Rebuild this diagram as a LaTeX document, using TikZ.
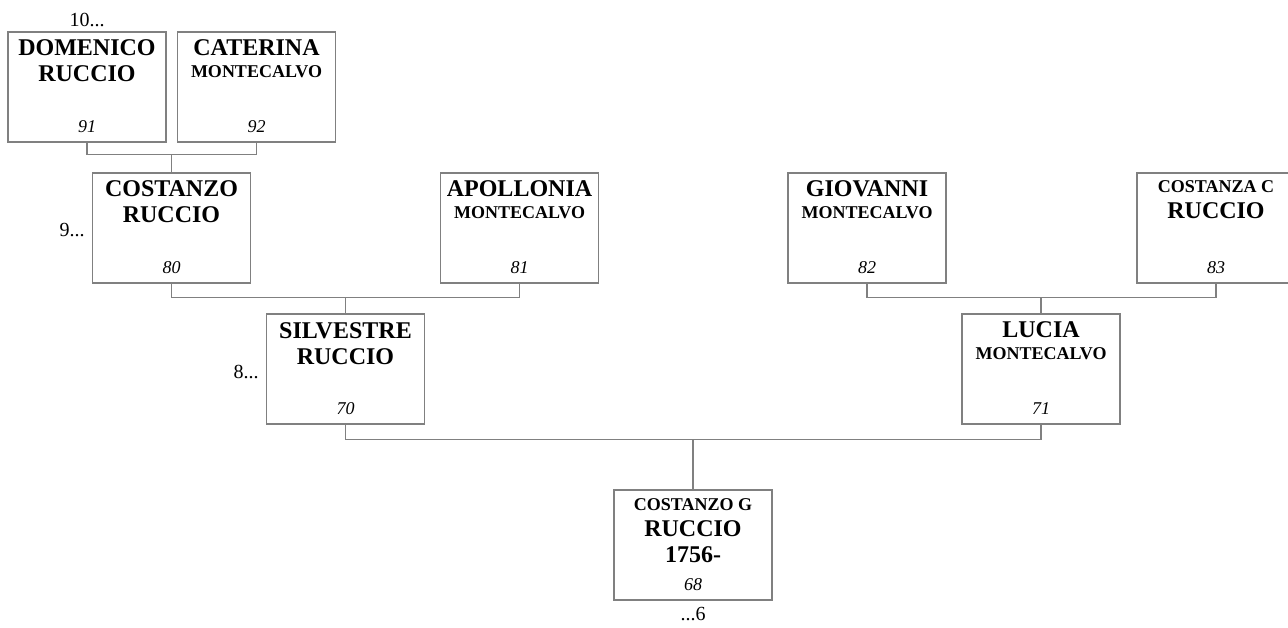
\documentclass[tikz,border=0pt]{standalone}
\usepackage{fontspec}
\setmainfont{Liberation Serif}
\usetikzlibrary{calc}

\definecolor{linegray}{RGB}{128,128,128}
\tikzset{
	pbox/.style={draw=linegray, line width=1.3pt, minimum width=158pt, minimum height=110pt, inner sep=0pt},
	namebig/.style={anchor=base, inner sep=0pt, font=\fontsize{24}{26}\selectfont\bfseries},
	namesmall/.style={anchor=base, inner sep=0pt, font=\fontsize{18}{20}\selectfont\bfseries},
	numtxt/.style={anchor=base, inner sep=0pt, font=\fontsize{18}{20}\selectfont\itshape},
	gen/.style={anchor=base, inner sep=0pt, font=\fontsize{20}{22}\selectfont},
	link/.style={draw=linegray, line width=1.3pt}
}

\begin{document}
\begin{tikzpicture}[x=1pt,y=-1pt]
			\useasboundingbox (0,0) rectangle (1288,628);
			% boxes
			\foreach \id/\x/\y in {91/87/87, 92/256.5/87, 80/171.5/228, 81/519.5/228, 82/867/228, 83/1216/228, 70/345.5/369, 71/1041/369, 68/693/545}
				\node[pbox] (p\id) at (\x,\y) {};
			% names
			\foreach \id/\dy/\st/\txt in {91/24/namebig/DOMENICO, 91/50/namebig/RUCCIO,
				92/24/namebig/CATERINA, 92/46/namesmall/MONTECALVO,
				80/24/namebig/COSTANZO, 80/50/namebig/RUCCIO,
				81/24/namebig/APOLLONIA, 81/46/namesmall/MONTECALVO,
				82/24/namebig/GIOVANNI, 82/46/namesmall/MONTECALVO,
				83/20/namesmall/COSTANZA C, 83/46/namebig/RUCCIO,
				70/25/namebig/SILVESTRE, 70/51/namebig/RUCCIO,
				71/24/namebig/LUCIA, 71/46/namesmall/MONTECALVO,
				68/21/namesmall/COSTANZO G, 68/47/namebig/RUCCIO, 68/73/namebig/1756-}
				\node[\st] (t\id-\dy) at ([yshift=-\dy pt]p\id.north) {\txt};
			\foreach \id in {91,92,80,81,82,83,70,71,68}
				\node[numtxt] (n\id) at ([yshift=-101pt]p\id.north) {\id};
			% generations
			\node[gen] (g10) at ([yshift=5pt]p91.north) {10...};
			\node[gen, anchor=base east] (g9) at ([xshift=-7pt,yshift=-9pt]p80.west) {9...};
			\node[gen, anchor=base east] (g8) at ([xshift=-7pt,yshift=-9pt]p70.west) {8...};
			\node[gen] (g6) at ([yshift=-20pt]p68.south) {...6};
			% links
			\coordinate (j80) at ([yshift=18pt]p80.north);
			\coordinate (j70) at ([yshift=16pt]p70.north);
			\coordinate (j71) at ([yshift=16pt]p71.north);
			\coordinate (j68) at ([yshift=50pt]p68.north);
			\draw[link] (p91.south) |- (j80) -| (p92.south);
			\draw[link] (j80) -- (p80.north);
			\draw[link] (p80.south) |- (j70) -| (p81.south);
			\draw[link] (j70) -- (p70.north);
			\draw[link] (p82.south) |- (j71) -| (p83.south);
			\draw[link] (j71) -- (p71.north);
			\draw[link] (p70.south) |- (j68) -| (p71.south);
			\draw[link] (j68) -- (p68.north);
		\end{tikzpicture}
\end{document}
